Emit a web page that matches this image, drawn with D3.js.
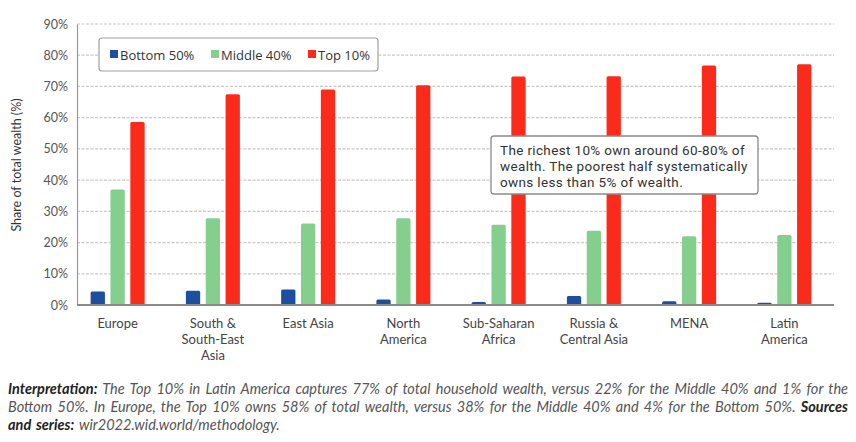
<!DOCTYPE html>
<html>
<head>
<meta charset="utf-8">
<script src="https://cdn.jsdelivr.net/npm/d3@7"></script>
<style>
  body { margin: 0; background: #fff; }
  svg { display: block; font-family: Lato, "Open Sans", sans-serif; }
</style>
</head>
<body>
<div class="chart"></div>
<script>
// data
const regions = [['Europe'], ['South &', 'South-East', 'Asia'], ['East Asia'], ['North', 'America'],
                 ['Sub-Saharan', 'Africa'], ['Russia &', 'Central Asia'], ['MENA'], ['Latin', 'America']];
const bottom50 = [4.3, 4.6, 5.0, 1.8, 1.0, 2.9, 1.2, 0.7];
const middle40 = [37.0, 27.8, 26.1, 27.8, 25.7, 23.8, 22.0, 22.4];
const top10 = [58.6, 67.5, 69.0, 70.4, 73.2, 73.3, 76.7, 77.1];
const seriesNames = ['Bottom 50%', 'Middle 40%', 'Top 10%'];
const yTicks = [0, 10, 20, 30, 40, 50, 60, 70, 80, 90];

const width = 856, height = 442;
const colors = ['#1c4f9f', '#85cf8e', '#fb2b1b'];

const svg = d3.select('.chart')
    .append('svg')
    .attr('width', width)
    .attr('height', height);

const x = d3.scaleBand()
    .domain(d3.range(regions.length))
    .range([70, 832]);

const y = d3.scaleLinear()
    .domain([0, 90])
    .range([305, 24]);

const inner = d3.scaleBand()
    .domain(d3.range(3))
    .range([-27, 27])
    .paddingInner(0.28);

// gridlines
svg.append('g')
    .selectAll('line')
    .data(yTicks.slice(1))
    .enter()
    .append('line')
    .attr('x1', 77)
    .attr('x2', 834)
    .attr('y1', d => y(d))
    .attr('y2', d => y(d))
    .attr('stroke', '#c8c8c8')
    .attr('stroke-width', 1.2)
    .attr('stroke-dasharray', '3,1.5');

// y axis
const yAxis = svg.append('g')
    .attr('transform', 'translate(77,0)')
    .call(d3.axisLeft(y).tickValues(yTicks).tickFormat(d => d + '%').tickSize(0).tickPadding(9));
yAxis.select('.domain').attr('stroke', '#9a9a9a').attr('stroke-width', 1.2);
yAxis.selectAll('text')
    .style('font-size', '12.5px')
    .style('fill', '#555')
    .style('font-family', 'Lato, sans-serif');

svg.append('text')
    .attr('transform', 'translate(21,165) rotate(-90)')
    .attr('text-anchor', 'middle')
    .style('font-size', '12.5px')
    .style('fill', '#333')
    .text('Share of total wealth (%)');

// bars
const allSeries = [bottom50, middle40, top10];
const groups = svg.selectAll('.region')
    .data(regions)
    .enter()
    .append('g')
    .attr('class', 'region')
    .attr('transform', (d, i) => `translate(${x(i) + x.bandwidth() / 2},0)`);

groups.each(function(d, i) {
    d3.select(this).selectAll('rect')
        .data(allSeries.map((s, k) => ({k: k, v: s[i]})))
        .enter()
        .append('rect')
        .attr('x', s => inner(s.k))
        .attr('width', inner.bandwidth())
        .attr('y', s => y(s.v))
        .attr('height', s => y(0) - y(s.v))
        .attr('rx', 1.5)
        .attr('fill', s => colors[s.k]);
});

// x axis line
svg.append('line')
    .attr('x1', 77).attr('x2', 834)
    .attr('y1', y(0)).attr('y2', y(0))
    .attr('stroke', '#8a8a8a')
    .attr('stroke-width', 2);

// category labels
groups.append('text')
    .attr('text-anchor', 'middle')
    .style('font-size', '13px')
    .style('fill', '#444')
    .selectAll('tspan')
    .data(d => d)
    .enter()
    .append('tspan')
    .attr('x', 0)
    .attr('y', (d, j) => 328 + j * 16)
    .text(d => d);

// legend
const legend = svg.append('g');
legend.append('rect')
    .attr('x', 99).attr('y', 38)
    .attr('width', 279).attr('height', 33)
    .attr('rx', 3)
    .attr('fill', '#fff')
    .attr('stroke', '#a0a0a0')
    .attr('stroke-width', 1.2);
const legendX = [110, 211, 308];
seriesNames.forEach((name, k) => {
    legend.append('rect')
        .attr('x', legendX[k]).attr('y', 50)
        .attr('width', 8).attr('height', 8)
        .attr('fill', colors[k]);
    legend.append('text')
        .attr('x', legendX[k] + 10).attr('y', 59.5)
        .style('font-size', '13px')
        .style('fill', '#333')
        .style('font-family', '"Open Sans", sans-serif')
        .text(name);
});

// annotation
const note = svg.append('g');
note.append('rect')
    .attr('x', 491).attr('y', 136)
    .attr('width', 267).attr('height', 58)
    .attr('rx', 3)
    .attr('fill', '#fff')
    .attr('stroke', '#8a8a8a')
    .attr('stroke-width', 1.3);
const noteLines = ['The richest 10% own around 60-80% of', 'wealth. The poorest half systematically', 'owns less than 5% of wealth.'];
noteLines.forEach((line, j) => {
    note.append('text')
        .attr('x', 500)
        .attr('y', 155 + j * 16)
        .style('font-size', '13.5px')
        .style('letter-spacing', '0.35px')
        .style('fill', '#333')
        .style('font-family', 'Roboto, sans-serif')
        .text(line);
});

// footnote (justified like the source)
const footLines = [
    [['Interpretation:', true], [' The Top 10% in Latin America captures 77% of total household wealth, versus 22% for the Middle 40% and 1% for the', false]],
    [['Bottom 50%. In Europe, the Top 10% owns 58% of total wealth, versus 38% for the Middle 40% and 4% for the Bottom 50%. ', false], ['Sources', true]],
    [['and series:', true], [' wir2022.wid.world/methodology.', false]]
];
footLines.forEach((line, j) => {
    const t = svg.append('text')
        .attr('x', 8)
        .attr('y', 394 + j * 18)
        .style('font-size', '14.5px')
        .style('font-style', 'italic');
    line.forEach(part => {
        t.append('tspan')
            .style('font-weight', part[1] ? 'bold' : 'normal')
            .style('fill', part[1] ? '#222' : '#555')
            .text(part[0]);
    });
    if (j < footLines.length - 1) {
        const natural = t.node().getComputedTextLength();
        const spaces = line.map(p => p[0]).join('').split(' ').length - 1;
        t.style('word-spacing', ((848 - 8 - natural) / spaces) + 'px');
    } else {
        t.style('word-spacing', '1.5px');
    }
});
</script>
</body>
</html>
